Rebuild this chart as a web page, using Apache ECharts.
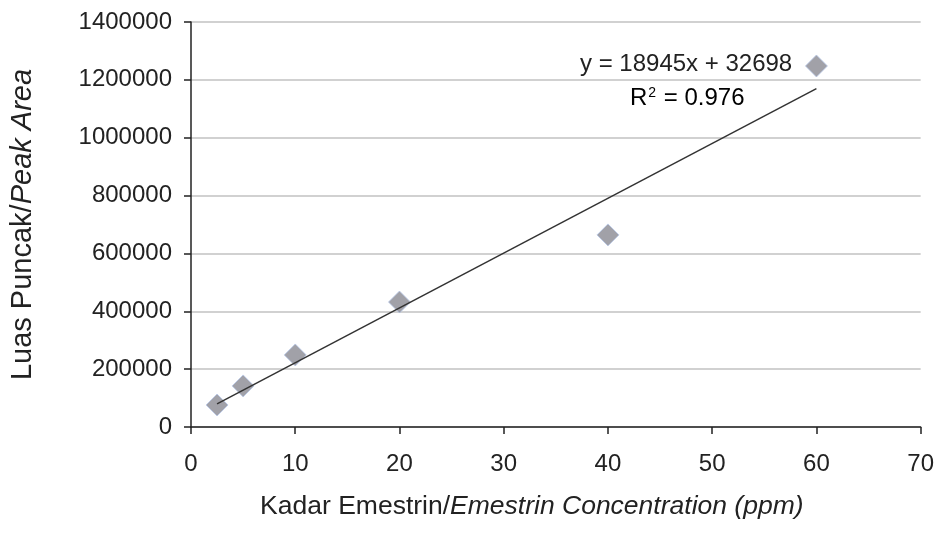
<!DOCTYPE html>
<html>
<head>
<meta charset="utf-8">
<script src="https://cdn.jsdelivr.net/npm/echarts@6/dist/echarts.min.js"></script>
<style>
  html, body { margin: 0; padding: 0; background: #fff; }
  #chart { width: 937px; height: 545px; }
</style>
</head>
<body>
<div id="chart"></div>
<script>
// concentration (ppm) and peak area
const concentrations = [2.5, 5, 10, 20, 40, 60]
const peakAreas = [76000, 142000, 249000, 432000, 664000, 1248000]

// linear trend line as printed on the chart
const slope = 18945
const intercept = 32698
const rSquared = '0.976'
const trendX = [2.5, 60]

const yTicks = [0, 200000, 400000, 600000, 800000, 1000000, 1200000, 1400000]
const xTicks = [0, 10, 20, 30, 40, 50, 60, 70]

const font = '"Liberation Sans", Arial, sans-serif'
const ink = '#222'

const chart = echarts.init(document.getElementById('chart'))

const option = {
  animation: false,
  textStyle: { fontFamily: font },
  grid: { left: 188, right: 16, top: 22, bottom: 118 },
  xAxis: {
    type: 'value',
    min: xTicks[0],
    max: xTicks[xTicks.length - 1],
    interval: 10,
    name: '{n|Kadar Emestrin/}{i|Emestrin Concentration (ppm)}',
    nameLocation: 'middle',
    nameGap: 66,
    nameTextStyle: {
      padding: [0, 48, 0, 0],
      rich: {
        n: { fontSize: 26.5, color: ink, fontFamily: font },
        i: { fontSize: 26.5, color: ink, fontStyle: 'italic', fontFamily: font }
      }
    },
    axisLine: { onZero: false, lineStyle: { color: ink, width: 1.5 } },
    axisTick: { show: true, length: 7, lineStyle: { color: ink, width: 1.5 } },
    axisLabel: { fontSize: 24, color: ink, margin: 25, fontFamily: font },
    splitLine: { show: false }
  },
  yAxis: {
    type: 'value',
    min: yTicks[0],
    max: yTicks[yTicks.length - 1],
    interval: 200000,
    name: '{n|Luas Puncak/}{i|Peak Area}',
    nameLocation: 'middle',
    nameGap: 154,
    nameTextStyle: {
      rich: {
        n: { fontSize: 29, color: ink, fontFamily: font },
        i: { fontSize: 29, color: ink, fontStyle: 'italic', fontFamily: font }
      }
    },
    axisLine: { show: true, lineStyle: { color: ink, width: 1.5 } },
    axisTick: { show: true, length: 7, lineStyle: { color: ink, width: 1.5 } },
    axisLabel: {
      fontSize: 24, color: ink, margin: 19, fontFamily: font,
      formatter: value => String(value)
    },
    splitLine: { show: true, lineStyle: { color: '#c2c2c2', width: 1.5 } }
  },
  series: [{
    name: 'trend',
    type: 'line',
    data: trendX.map(x => [x, slope * x + intercept]),
    showSymbol: false,
    lineStyle: { color: '#333', width: 1.5 },
    z: 3
  }, {
    name: 'peak',
    type: 'scatter',
    data: concentrations.map((x, i) => [x, peakAreas[i]]),
    symbol: 'path://M0,-1L1,0L0,1L-1,0Z',
    symbolSize: 22,
    itemStyle: { color: '#8a8a92', borderColor: '#b8c8e8', borderWidth: 1 },
    z: 2
  }],
  graphic: [{
    type: 'text',
    left: 580,
    top: 52,
    style: {
      text: 'y = ' + slope + 'x + ' + intercept,
      font: '24px ' + font,
      fill: ink
    }
  }, {
    type: 'text',
    left: 630,
    top: 86,
    style: {
      text: '{a|R}{s|2}{a| = ' + rSquared + '}',
      rich: {
        a: { fontSize: 24, fontFamily: font, color: ink },
        s: { fontSize: 14, fontFamily: font, color: ink, verticalAlign: 'top', padding: [0, 1, 10, 1] }
      }
    }
  }]
}

chart.setOption(option)
window.onresize = () => chart.resize()
</script>
</body>
</html>
